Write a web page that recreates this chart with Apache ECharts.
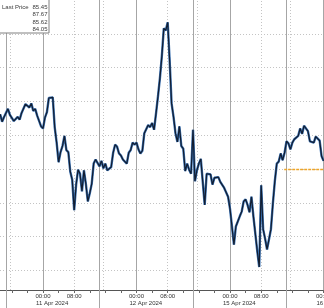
<!DOCTYPE html>
<html><head><meta charset="utf-8">
<script src="https://cdn.jsdelivr.net/npm/echarts@6/dist/echarts.min.js"></script>
<style>html,body{margin:0;padding:0;background:#fff;}#c{width:324px;height:308px;}</style>
</head><body><div id="c"></div>
<script>
// Collapsed trading hours, 0 = 11 Apr 2024 00:00 (weekend removed)
const startHour = -11;
const stepHours = 0.5;
const prices = [
86.31,86.20,86.27,86.33,86.39,86.30,86.31,86.21,86.22,86.27,
86.23,86.33,86.34,86.46,86.44,86.41,86.47,86.36,86.39,86.29,
86.27,86.13,86.10,86.26,86.34,86.55,86.54,86.56,86.12,85.89,
85.60,85.75,85.84,85.99,85.78,85.75,85.46,85.34,84.89,85.27,
85.49,85.43,85.17,85.48,85.28,85.02,85.14,85.28,85.58,85.64,
85.62,85.54,85.62,85.51,85.58,85.48,85.49,85.53,85.74,85.86,
85.83,85.73,85.70,85.64,85.65,85.58,85.74,85.78,85.89,85.86,
85.89,85.79,85.73,85.77,86.03,86.05,86.15,86.12,86.18,86.08,
86.32,86.57,86.84,87.17,87.58,87.55,87.67,87.11,86.47,86.27,
86.03,85.90,86.13,85.84,85.80,85.47,85.58,85.49,85.43,86.08,
85.32,85.48,85.58,85.65,85.66,84.97,85.43,85.44,85.42,85.27,
85.37,85.39,85.38,85.31,85.31,85.22,85.21,85.09,84.91,84.65,
84.38,84.65,84.64,84.80,84.87,85.02,85.05,84.97,84.86,85.09,
84.80,84.54,84.28,84.05,85.26,84.61,84.47,84.31,84.29,84.61,
84.99,85.32,85.58,85.61,85.73,85.63,85.74,85.91,85.88,85.79,
85.89,85.94,85.94,85.99,86.10,86.02,86.14,86.13,86.06,85.91,
85.90,85.89,85.98,85.99,85.92,85.69,85.62
];
const hGrid = [84, 84.5, 85, 85.5, 86, 86.5, 87, 87.5];
const vSolid = [-9.5, 0, 14.5, 24, 38.5, 48, 62.5, 72];
const vDotted = [-8.5, 8, 15.5, 32, 39.5, 56, 63.5];
const sessionBreaks = [-9.5, 14.5, 38.5, 62.5];
const minorTicks = [-8,-4,0,4,8,12,16,20,24,28,32,36,40,44,48,52,56,60,64,68,72];
const timeTicks = [0, 8, 24, 32, 48, 56, 72];
const timeLabels = ['00:00','08:00','00:00','08:00','00:00','08:00','00:00'];
const dateTicks = [0, 24, 48, 72];
const dateLabels = ['11 Apr 2024','12 Apr 2024','15 Apr 2024','16 Apr 2024'];
const legendNames = ['Last Price', '', '', ''];
const legendValues = ['85.45', '87.67', '85.62', '84.05'];
const refStart = 61.9, refValue = 85.5;

const xMin = -11.04, xMax = 72.12, yMin = 83.71, yMax = 88.0;
const dateShift = 1.8;
const FONT = 'Liberation Sans, Arial, sans-serif';

const data = prices.map((p, i) => [startHour + i * stepHours, p]);

const gridLines = []
  .concat(hGrid.map(v => ({ yAxis: v, lineStyle: { color: '#c4c4c4', type: [1, 2], width: 1 } })))
  .concat(vDotted.map(v => ({ xAxis: v, lineStyle: { color: '#c4c4c4', type: [1, 2], width: 1 } })))
  .concat(vSolid.map(v => ({ xAxis: v, lineStyle: { color: '#a6a6a6', type: 'solid', width: 1 } })));

const legendEls = [{
  type: 'rect', shape: { x: -1, y: -1, width: 50, height: 34 },
  style: { fill: '#fff', stroke: '#808080', lineWidth: 1 }, z: 100
}];
legendValues.forEach((v, i) => {
  const y = 7 + i * 7.6;
  if (legendNames[i]) legendEls.push({ type: 'text', x: 2, y: y, z: 101,
    style: { text: legendNames[i], font: '6px ' + FONT, fill: '#3a3a3a', textAlign: 'left', textVerticalAlign: 'middle' } });
  legendEls.push({ type: 'text', x: 47.5, y: y, z: 101,
    style: { text: v, font: '6px ' + FONT, fill: '#3a3a3a', textAlign: 'right', textVerticalAlign: 'middle' } });
});

const refStyle = { color: '#eda52a', type: [3, 1], width: 1.4, opacity: 1 };

const chart = echarts.init(document.getElementById('c'), null, { renderer: 'canvas' });
chart.setOption({
  animation: false,
  backgroundColor: '#fff',
  grid: { left: 0, right: 0, top: 0, bottom: 18, containLabel: false, outerBoundsMode: 'none' },
  xAxis: [{
    type: 'value', min: xMin, max: xMax, position: 'bottom',
    axisLine: { show: true, lineStyle: { color: '#555', width: 1 } },
    axisTick: { show: true, customValues: minorTicks, length: 3, lineStyle: { color: '#666' } },
    axisLabel: { show: true, customValues: timeTicks, margin: 3, fontSize: 6, fontFamily: FONT, color: '#333',
      formatter: v => { const k = timeTicks.indexOf(v); return k >= 0 ? timeLabels[k] : ''; } },
    splitLine: { show: false }
  }, {
    type: 'value', min: xMin, max: xMax, position: 'bottom',
    axisLine: { show: false },
    axisTick: { show: true, customValues: sessionBreaks, length: 18, lineStyle: { color: '#a6a6a6' } },
    axisLabel: { show: false }, splitLine: { show: false }
  }, {
    type: 'value', min: xMin + dateShift, max: xMax + dateShift, position: 'bottom',
    axisLine: { show: false }, axisTick: { show: false }, splitLine: { show: false },
    axisLabel: { show: true, customValues: dateTicks, margin: 10, align: 'left', fontSize: 6, fontFamily: FONT, color: '#333',
      formatter: v => { const k = dateTicks.indexOf(v); return k >= 0 ? dateLabels[k] : ''; } }
  }],
  yAxis: { type: 'value', min: yMin, max: yMax, show: false, splitLine: { show: false } },
  series: [{
    type: 'line', data: [], silent: true, z: 1,
    markLine: { silent: true, symbol: 'none', z: 1, label: { show: false }, animation: false, data: gridLines }
  }, {
    type: 'line', data: data, showSymbol: false, z: 3, silent: true,
    lineStyle: { color: '#3a70b0', width: 2.4 }
  }, {
    type: 'line', data: data, showSymbol: false, z: 4, silent: true,
    lineStyle: { color: '#121d30', width: 1.2 },
    markLine: { silent: true, symbol: 'none', z: 6, label: { show: false }, animation: false,
      lineStyle: refStyle,
      data: [[{ coord: [refStart, refValue], lineStyle: refStyle }, { coord: [xMax, refValue] }]] }
  }],
  graphic: legendEls
});
</script></body></html>
